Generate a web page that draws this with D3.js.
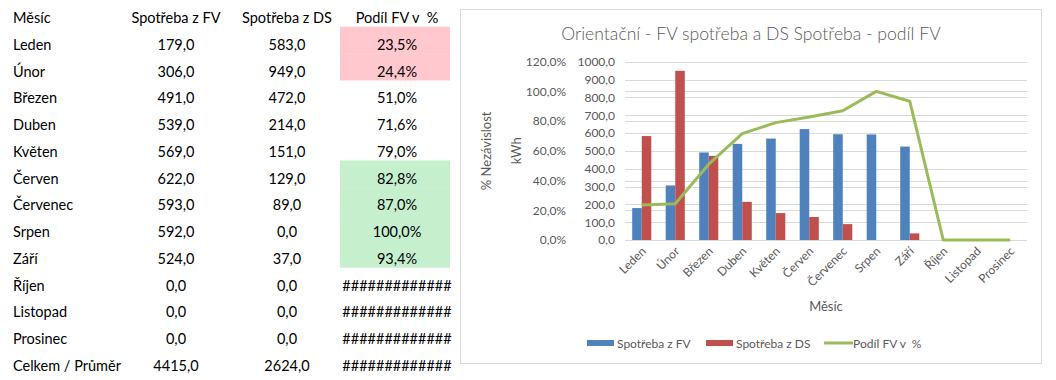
<!DOCTYPE html>
<html><head><meta charset="utf-8">
<script src="https://cdn.jsdelivr.net/npm/d3@7"></script>
<style>
html,body{margin:0;padding:0;background:#fff;}
svg{display:block;}
text{font-family:Lato,"Noto Sans",sans-serif;white-space:pre;}
</style></head>
<body><svg id="c" width="1056" height="380"></svg>
<script>
// ---- data ----
const months = ["Leden","Únor","Březen","Duben","Květen","Červen","Červenec","Srpen","Září","Říjen","Listopad","Prosinec"];
const spotrebaFV = [179,306,491,539,569,622,593,592,524,0,0,0];
const spotrebaDS = [583,949,472,214,151,129,89,0,37,0,0,0];
const podilFV = [23.5,24.4,51.0,71.6,79.0,82.8,87.0,100.0,93.4,null,null,null];
const tableHeaders = ["Měsíc","Spotřeba z FV","Spotřeba z DS","Podíl FV v  %"];
const totalLabel = "Celkem / Průměr";
const kwhTicks = [0,100,200,300,400,500,600,700,800,900,1000];
const pctTicks = [0,20,40,60,80,100,120];
const seriesNames = ["Spotřeba z FV","Spotřeba z DS","Podíl FV v  %"];
const chartTitle = "Orientační - FV spotřeba a DS Spotřeba - podíl FV";

const svg = d3.select("#c");
const fmt1 = v => d3.format(".1f")(v).replace(".", ",");
const fmtPct = v => v == null ? "#############" : fmt1(v) + "%";

// ---- table ----
const colX = [13, 176, 287, 397];
const rowTop = 26.7, rowH = 26.75;
const tFont = 14.5;
const tbl = svg.append("g");
const rows = months.map((m,i)=>({m, fv:spotrebaFV[i], ds:spotrebaDS[i], p:podilFV[i]}));
// conditional fills
tbl.selectAll("rect.cf").data(rows.filter(r=>r.p!=null && (r.p<30 || r.p>80)))
  .join("rect").attr("class","cf")
  .attr("x",340).attr("width",110)
  .attr("y",d=>rowTop + rows.indexOf(d)*rowH).attr("height",rowH+0.3)
  .attr("fill",d=>d.p<30?"#ffc7ce":"#c6efce");
// header
tbl.selectAll("text.h").data(tableHeaders).join("text").attr("class","h")
  .attr("x",(d,i)=>colX[i]).attr("y",23)
  .attr("text-anchor",(d,i)=>i===0?"start":"middle")
  .attr("font-size",tFont).attr("fill","#000").text(d=>d);
const allRows = rows.concat([{m:totalLabel, fv:d3.sum(spotrebaFV), ds:d3.sum(spotrebaDS), p:null}]);
allRows.forEach((r,i)=>{
  const y = rowTop + (i+1)*rowH - 3.6;
  const vals = [r.m, fmt1(r.fv), fmt1(r.ds), fmtPct(r.p)];
  vals.forEach((v,j)=>{
    tbl.append("text").attr("x",colX[j]).attr("y",y)
      .attr("text-anchor",j===0?"start":"middle")
      .attr("font-size",tFont).attr("fill","#000").text(v);
  });
});

// ---- chart ----
const frame = {x:460.5,y:9.5,w:581,h:354};
svg.append("rect").attr("x",frame.x).attr("y",frame.y).attr("width",frame.w).attr("height",frame.h)
  .attr("fill","#fff").attr("stroke","#d9d9d9");

const pl=625, pr=1027, pt=61.7, pb=240;
const x0 = d3.scaleBand().domain(months).range([pl,pr]).paddingInner(0.43).paddingOuter(0.215);
const x1 = d3.scaleBand().domain(["fv","ds"]).range([0,x0.bandwidth()]);
const yK = d3.scaleLinear().domain([0,1000]).range([pb,pt]);
const yP = d3.scaleLinear().domain([0,120]).range([pb,pt]);
const gray = "#595959";

// gridlines
svg.append("g").selectAll("line").data(kwhTicks).join("line")
  .attr("x1",pl).attr("x2",pr).attr("y1",d=>Math.round(yK(d))+0.5).attr("y2",d=>Math.round(yK(d))+0.5)
  .attr("stroke","#d9d9d9");
svg.append("g").selectAll("line").data(pctTicks).join("line")
  .attr("x1",pl).attr("x2",pr).attr("y1",d=>Math.round(yP(d))+0.5).attr("y2",d=>Math.round(yP(d))+0.5)
  .attr("stroke","#d9d9d9");

// axes
const axK = svg.append("g").attr("transform",`translate(${pl},0)`)
  .call(d3.axisLeft(yK).tickValues(kwhTicks).tickSize(0).tickPadding(10).tickFormat(fmt1));
const axP = svg.append("g").attr("transform",`translate(${pl},0)`)
  .call(d3.axisLeft(yP).tickValues(pctTicks).tickSize(0).tickPadding(59).tickFormat(d=>fmt1(d)+"%"));
[axK,axP].forEach(a=>{a.select(".domain").remove();
  a.selectAll("text").attr("fill",gray).attr("font-size",12).attr("font-family","Lato,sans-serif");});

const axX = svg.append("g").attr("transform",`translate(0,${pb})`)
  .call(d3.axisBottom(x0).tickSize(0).tickPadding(0));
axX.select(".domain").remove();
axX.selectAll("text").attr("fill",gray).attr("font-size",12).attr("font-family","Lato,sans-serif")
  .attr("text-anchor","end").attr("dy",0)
  .attr("transform","translate(5,12) rotate(-45)");

// bars
const bars = svg.append("g");
bars.selectAll("rect.fv").data(months).join("rect").attr("class","fv")
  .attr("x",(d)=>x0(d)+x1("fv")).attr("width",x1.bandwidth())
  .attr("y",(d,i)=>yK(spotrebaFV[i])).attr("height",(d,i)=>pb-yK(spotrebaFV[i]))
  .attr("fill","#4f81bd");
bars.selectAll("rect.ds").data(months).join("rect").attr("class","ds")
  .attr("x",(d)=>x0(d)+x1("ds")).attr("width",x1.bandwidth())
  .attr("y",(d,i)=>yK(spotrebaDS[i])).attr("height",(d,i)=>pb-yK(spotrebaDS[i]))
  .attr("fill","#c0504d");

// line
const line = d3.line().x((d,i)=>x0(months[i])+x0.bandwidth()/2).y(d=>yP(d==null?0:d));
svg.append("path").datum(podilFV).attr("d",line).attr("fill","none")
  .attr("stroke","#9bbb59").attr("stroke-width",3).attr("stroke-linejoin","round");

// titles
svg.append("text").attr("x",751).attr("y",40).attr("text-anchor","middle")
  .attr("font-size",17.6).attr("fill",gray).attr("font-weight",300).text(chartTitle);
svg.append("text").attr("transform",`translate(491,${(pt+pb)/2}) rotate(-90)`).attr("text-anchor","middle")
  .attr("font-size",13).attr("fill",gray).text("% Nezávislost");
svg.append("text").attr("transform",`translate(521,${(pt+pb)/2}) rotate(-90)`).attr("text-anchor","middle")
  .attr("font-size",13).attr("fill",gray).text("kWh");
svg.append("text").attr("x",(pl+pr)/2).attr("y",311).attr("text-anchor","middle")
  .attr("font-size",13).attr("fill",gray).text("Měsíc");

// legend
const lg = svg.append("g");
const legX = [587, 706, 824];
const colors = ["#4f81bd","#c0504d","#9bbb59"];
seriesNames.forEach((n,i)=>{
  if(i<2) lg.append("rect").attr("x",legX[i]).attr("y",340).attr("width",27).attr("height",6).attr("fill",colors[i]);
  else lg.append("line").attr("x1",legX[i]).attr("x2",legX[i]+29).attr("y1",343).attr("y2",343).attr("stroke",colors[i]).attr("stroke-width",3);
  lg.append("text").attr("x",legX[i]+(i<2?30:29)).attr("y",347.5).attr("font-size",12).attr("fill",gray).text(n);
});
</script></body></html>
